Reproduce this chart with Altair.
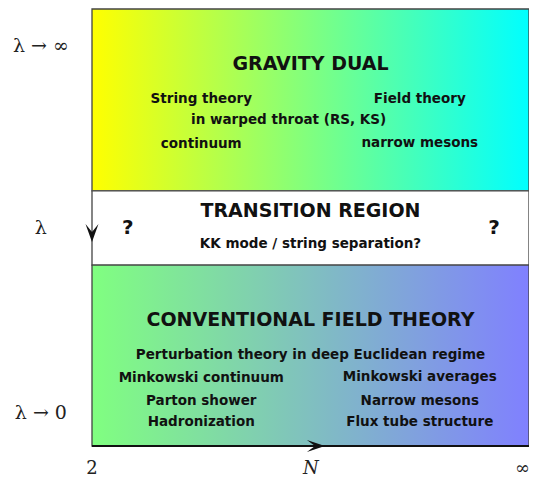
import altair as alt
import pandas as pd

# ---- data (diagram coordinates: N axis 0..1 left->right, lambda axis 0..1 bottom->top)
region_names = ["gravity", "transition", "conventional"]
region_y0 = [0.584, 0.414, 0.0]
region_y1 = [1.0, 0.584, 0.414]

heading_text = ["GRAVITY DUAL", "TRANSITION REGION", "CONVENTIONAL FIELD THEORY"]
heading_x = [0.5, 0.5, 0.5]
heading_y = [0.874, 0.538, 0.288]

body_text = ["String theory", "Field theory", "in warped throat (RS, KS)", "continuum",
             "narrow mesons", "KK mode / string separation?",
             "Perturbation theory in deep Euclidean regime",
             "Minkowski continuum", "Minkowski averages",
             "Parton shower", "Narrow mesons",
             "Hadronization", "Flux tube structure"]
body_x = [0.25, 0.75, 0.45, 0.25, 0.75, 0.5, 0.5, 0.25, 0.75, 0.25, 0.75, 0.25, 0.75]
body_y = [0.794, 0.794, 0.746, 0.691, 0.693, 0.462, 0.208, 0.156, 0.158, 0.103, 0.103, 0.055, 0.055]

q_text = ["?", "?"]
q_x = [0.082, 0.92]
q_y = [0.499, 0.499]

lam_text = ["λ → ∞", "λ", "λ → 0"]
lam_x = [-0.117, -0.117, -0.117]
lam_y = [0.915, 0.499, 0.0755]

n_text = ["2", "∞"]
n_x = [0.0, 0.985]
n_y = [-0.053, -0.053]
n_mid_text = ["N"]
n_mid_x = [0.501]
n_mid_y = [-0.053]

arrow_down_x = [0.0]
arrow_down_y = [0.467]
arrow_right_x = [0.533]
arrow_right_y = [0.0]

axis_x0 = [0.0]
axis_x1 = [1.0]
axis_y = [0.0]

# ---- scales
xs = alt.Scale(domain=[0, 1], nice=False, zero=False)
ys = alt.Scale(domain=[0, 1], nice=False, zero=False)

regions = pd.DataFrame({"name": region_names, "y0": region_y0, "y1": region_y1,
                        "x0": [0.0] * 3, "x1": [1.0] * 3})


def grad(c0, c1):
    return alt.Gradient(gradient="linear",
                        stops=[alt.GradientStop(color=c0, offset=0),
                               alt.GradientStop(color=c1, offset=1)],
                        x1=0, x2=1, y1=0, y2=0)


def rect_layer(name, fill):
    return alt.Chart(regions[regions["name"] == name]).mark_rect(
        fill=fill, stroke="#444444", strokeWidth=1.3
    ).encode(
        x=alt.X("x0:Q", scale=xs, axis=None), x2="x1:Q",
        y=alt.Y("y0:Q", scale=ys, axis=None), y2="y1:Q",
    )


top = rect_layer("gravity", grad("#ffff00", "#00ffff"))
mid = rect_layer("transition", "#ffffff")
bot = rect_layer("conventional", grad("#80ff80", "#8080ff"))

SANS = "DejaVu Sans"
SERIF = "DejaVu Serif"


def text_layer(texts, xv, yv, size, font=SANS, weight="bold", style="normal", color="#111111"):
    df = pd.DataFrame({"t": texts, "x": xv, "y": yv})
    return alt.Chart(df).mark_text(
        font=font, fontSize=size, fontWeight=weight, fontStyle=style,
        color=color, align="center", baseline="middle", clip=False
    ).encode(
        x=alt.X("x:Q", scale=xs, axis=None),
        y=alt.Y("y:Q", scale=ys, axis=None),
        text="t:N",
    )


headings = text_layer(heading_text, heading_x, heading_y, 19)
body = text_layer(body_text, body_x, body_y, 13.5)
qs = text_layer(q_text, q_x, q_y, 20)
lams = text_layer(lam_text, lam_x, lam_y, 19, font=SERIF, weight="normal", color="#222222")
ns = text_layer(n_text, n_x, n_y, 18, font=SERIF, weight="normal", color="#222222")
nmid = text_layer(n_mid_text, n_mid_x, n_mid_y, 18, font=SERIF, weight="normal",
                  style="italic", color="#222222")

axis_line = alt.Chart(pd.DataFrame({"x0": axis_x0, "x1": axis_x1, "y": axis_y})).mark_rule(
    color="#111111", strokeWidth=2
).encode(
    x=alt.X("x0:Q", scale=xs, axis=None), x2="x1:Q",
    y=alt.Y("y:Q", scale=ys, axis=None),
)

down_shape = "M0,0 L-0.36,-1 L0,-0.55 L0.36,-1 Z"
right_shape = "M0,0 L-1,-0.34 L-0.55,0 L-1,0.34 Z"

arrow_down = alt.Chart(pd.DataFrame({"x": arrow_down_x, "y": arrow_down_y})).mark_point(
    shape=down_shape, size=1296, filled=True, color="#111111", opacity=1, strokeWidth=0
).encode(x=alt.X("x:Q", scale=xs, axis=None), y=alt.Y("y:Q", scale=ys, axis=None))

arrow_right = alt.Chart(pd.DataFrame({"x": arrow_right_x, "y": arrow_right_y})).mark_point(
    shape=right_shape, size=1296, filled=True, color="#111111", opacity=1, strokeWidth=0
).encode(x=alt.X("x:Q", scale=xs, axis=None), y=alt.Y("y:Q", scale=ys, axis=None))

chart = alt.layer(
    top, mid, bot, axis_line, arrow_down, arrow_right,
    headings, body, qs, lams, ns, nmid
).properties(
    width=437, height=437,
    padding={"left": 84, "top": 1, "right": 0, "bottom": 31},
    autosize=alt.AutoSizeParams(type="none"),
).configure_view(stroke=None)

chart.save("out.html", embed_options={"renderer": "svg", "actions": False})
